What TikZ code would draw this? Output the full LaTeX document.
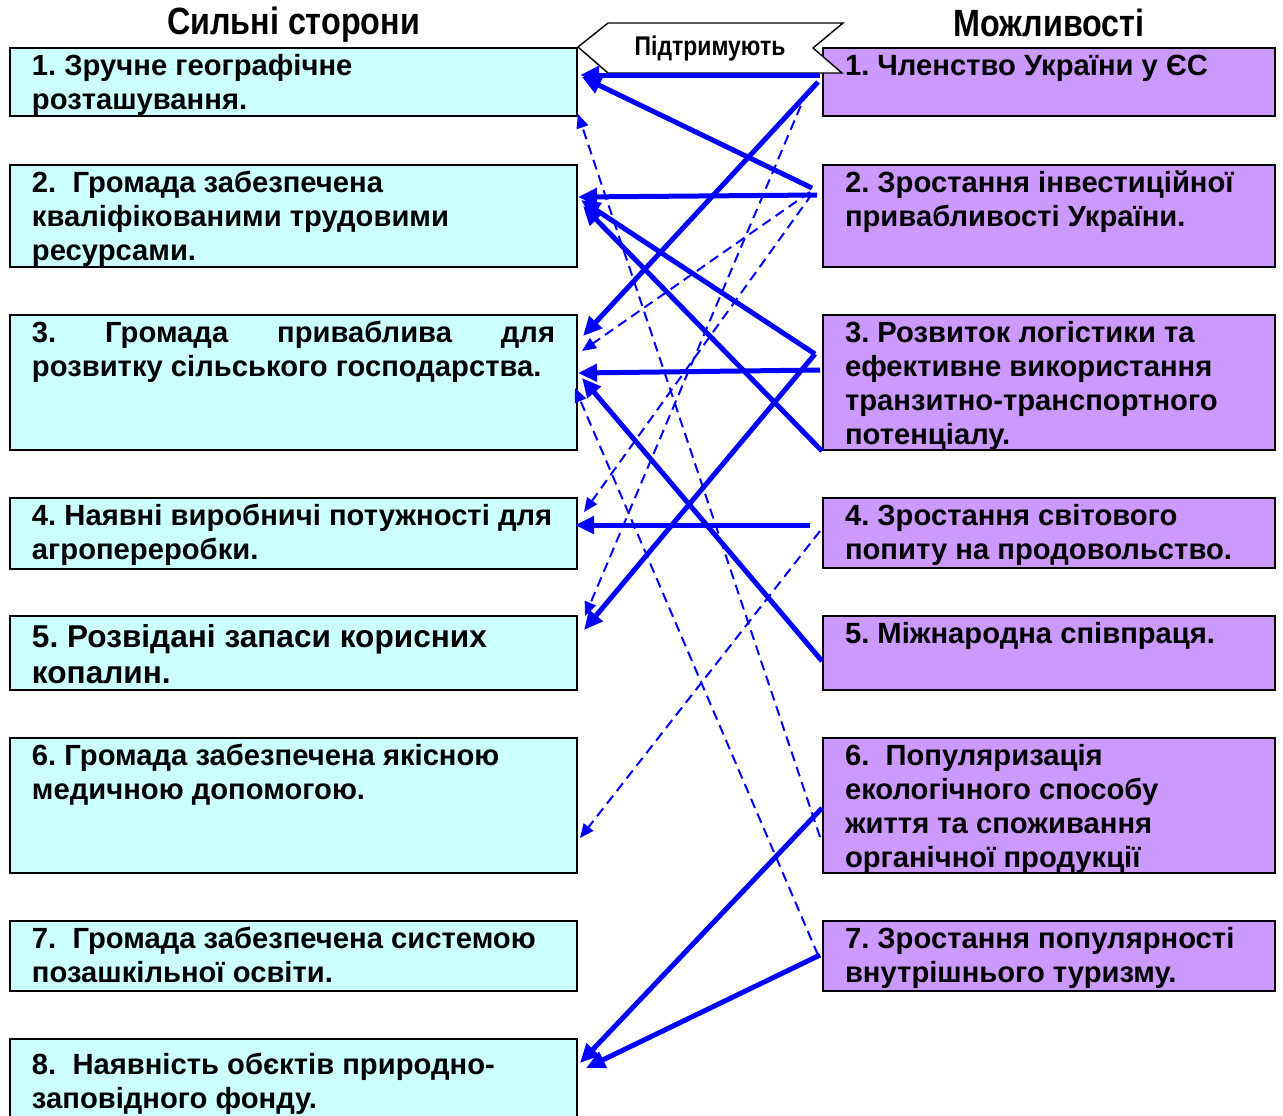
\documentclass[tikz,border=0pt]{standalone}
\usepackage{fontspec}
\setmainfont{Liberation Sans}
\newfontfamily\narrowfont{Liberation Sans}[FakeStretch=0.85]
\usetikzlibrary{arrows.meta,calc,positioning}
\definecolor{scol}{RGB}{204,255,255}
\definecolor{mcol}{RGB}{204,153,255}
\frenchspacing
\newcommand{\cell}[3]{\parbox[t][#1][t]{#2}{\raggedright\rule{0pt}{13.5pt}#3}}

\begin{document}
\begin{tikzpicture}[x=0.5pt, y=-0.5pt,
  box/.style={draw=black, line width=1pt, anchor=north west, inner xsep=11pt, inner ysep=0pt,
    font=\fontsize{14.6}{17}\selectfont\bfseries},
  sbox/.style={box, fill=scol},
  mbox/.style={box, fill=mcol},
  title/.style={font=\narrowfont\bfseries\fontsize{19}{22}\selectfont, inner sep=0pt},
  sline/.style={blue, line width=2.5pt, -{Triangle[length=9.5pt,width=8.5pt]}},
  dline/.style={blue, line width=1pt, dash pattern=on 5pt off 3pt, -{Triangle[length=7pt,width=6pt]}}]

  \useasboundingbox (0,0) rectangle (1283,1115);
  \clip (0,0) rectangle (1283,1115);

  \newcommand\SW{261.5pt}
  \newcommand\MW{204pt}

  % strengths
  \node[sbox] (s1) at (9,47) {\cell{34pt}{\SW}{1. Зручне географічне\\розташування.}};
  \node[sbox] (s2) at (9,164) {\cell{51pt}{\SW}{2.~~Громада забезпечена\\кваліфікованими трудовими\\ресурсами.}};
  \node[sbox] (s3) at (9,314) {\cell{67.5pt}{\SW}{3.\hfill Громада\hfill приваблива\hfill для\\розвитку сільського господарства.}};
  \node[sbox] (s4) at (9,497) {\cell{35.5pt}{\SW}{4. Наявні виробничі потужності для\\агропереробки.}};
  \node[sbox] (s5) at (9,615) {\cell{37pt}{\SW}{\fontsize{15.8}{18}\selectfont\rule{0pt}{15.5pt}5. Розвідані запаси корисних\\копалин.}};
  \node[sbox] (s6) at (9,737) {\cell{67.5pt}{\SW}{6. Громада забезпечена якісною\\медичною допомогою.}};
  \node[sbox] (s7) at (9,920) {\cell{35pt}{\SW}{7.~~Громада забезпечена системою\\позашкільної освіти.}};
  \node[sbox] (s8) at (9,1038) {\cell{60pt}{\SW}{\rule{0pt}{17.5pt}8.~~Наявність обєктів природно-\\заповідного фонду.}};

  % opportunities
  \node[mbox] (m1) at (822,47) {\cell{34pt}{\MW}{1. Членство України у ЄС}};
  \node[mbox] (m2) at (822,164) {\cell{51pt}{\MW}{2. Зростання інвестиційної\\привабливості України.}};
  \node[mbox] (m3) at (822,314) {\cell{67.5pt}{\MW}{3. Розвиток логістики та\\ефективне використання\\транзитно-транспортного\\потенціалу.}};
  \node[mbox] (m4) at (822,497) {\cell{35pt}{\MW}{4. Зростання світового\\попиту на продовольство.}};
  \node[mbox] (m5) at (822,615) {\cell{37pt}{\MW}{5. Міжнародна співпраця.}};
  \node[mbox] (m6) at (822,737) {\cell{67.5pt}{\MW}{6.~~Популяризація\\екологічного способу\\життя та споживання\\органічної продукції}};
  \node[mbox] (m7) at (822,920) {\cell{35pt}{\MW}{7. Зростання популярності\\внутрішнього туризму.}};

  \node[title, above=2pt of s1] (ts) {Сильні сторони};
  \node[title, above=5pt of m1] (tm) {Можливості};

  % banner
  \draw[line width=0.7pt, fill=white] (578,47) -- (608,23) -- (843,23) -- (813,48) -- (842,73) -- (608,73) -- cycle;
  \node[font=\narrowfont\bfseries\fontsize{13.5}{16}\selectfont] (sup) at (710,49) {Підтримують};

  % strong links
  \draw[sline] ($(m1.north west)+(-2,28)$) -- ($(s1.north east)+(2,28)$); %% m1->s1
  \draw[sline] ($(m2.north west)+(-10,24)$) -- ($(s1.north east)+(4,30)$); %% m2->s1
  \draw[sline] ($(m1.north west)+(-4,35)$) -- ($(s3.north east)+(5,22)$); %% m1->s3
  \draw[sline] ($(m2.north west)+(-5,31)$) -- ($(s2.north east)+(0,33)$); %% m2->s2
  \draw[sline] ($(m3.north west)+(-7,40)$) -- ($(s2.north east)+(3,36)$); %% m3->s2
  \draw[sline] (m3.south west) -- ($(s2.north east)+(5,42)$); %% m3->s2
  \draw[sline] ($(m3.north west)+(-2,56)$) -- ($(s3.north east)+(0,59)$); %% m3->s3
  \draw[sline] ($(m5.north west)+(0,46)$) -- ($(s3.north east)+(4,64)$); %% m5->s3
  \draw[sline] ($(m3.north west)+(-7,40)$) -- ($(s5.north east)+(6,15)$); %% m3->s5
  \draw[sline] ($(m4.north west)+(-12,28)$) -- ($(s4.north east)+(-3,28)$); %% m4->s4
  \draw[sline] ($(m6.north west)+(0,71)$) -- ($(s8.north east)+(2,25)$); %% m6->s8
  \draw[sline] ($(m7.north west)+(-2,35)$) -- ($(s8.north east)+(8,30)$); %% m7->s8

  % weak links
  \draw[dline] ($(m6.north west)+(-2,100)$) -- ($(s1.north east)+(0,67)$); %% m6->s1
  \draw[dline] ($(m2.north west)+(-12,28)$) -- ($(s3.north east)+(4,37)$); %% m2->s3
  \draw[dline] ($(m2.north west)+(-10,30)$) -- ($(s4.north east)+(6,15)$); %% m2->s4
  \draw[dline] ($(m1.north west)+(-15,44)$) -- ($(s5.north east)+(7,1)$); %% m1->s5
  \draw[dline] ($(m4.north west)+(-2,34)$) -- ($(s6.north east)+(2,101)$); %% m4->s6
  \draw[dline] ($(m7.north west)+(-4,35)$) -- ($(s3.north east)+(-3,74)$); %% m7->s3
\end{tikzpicture}
\end{document}
